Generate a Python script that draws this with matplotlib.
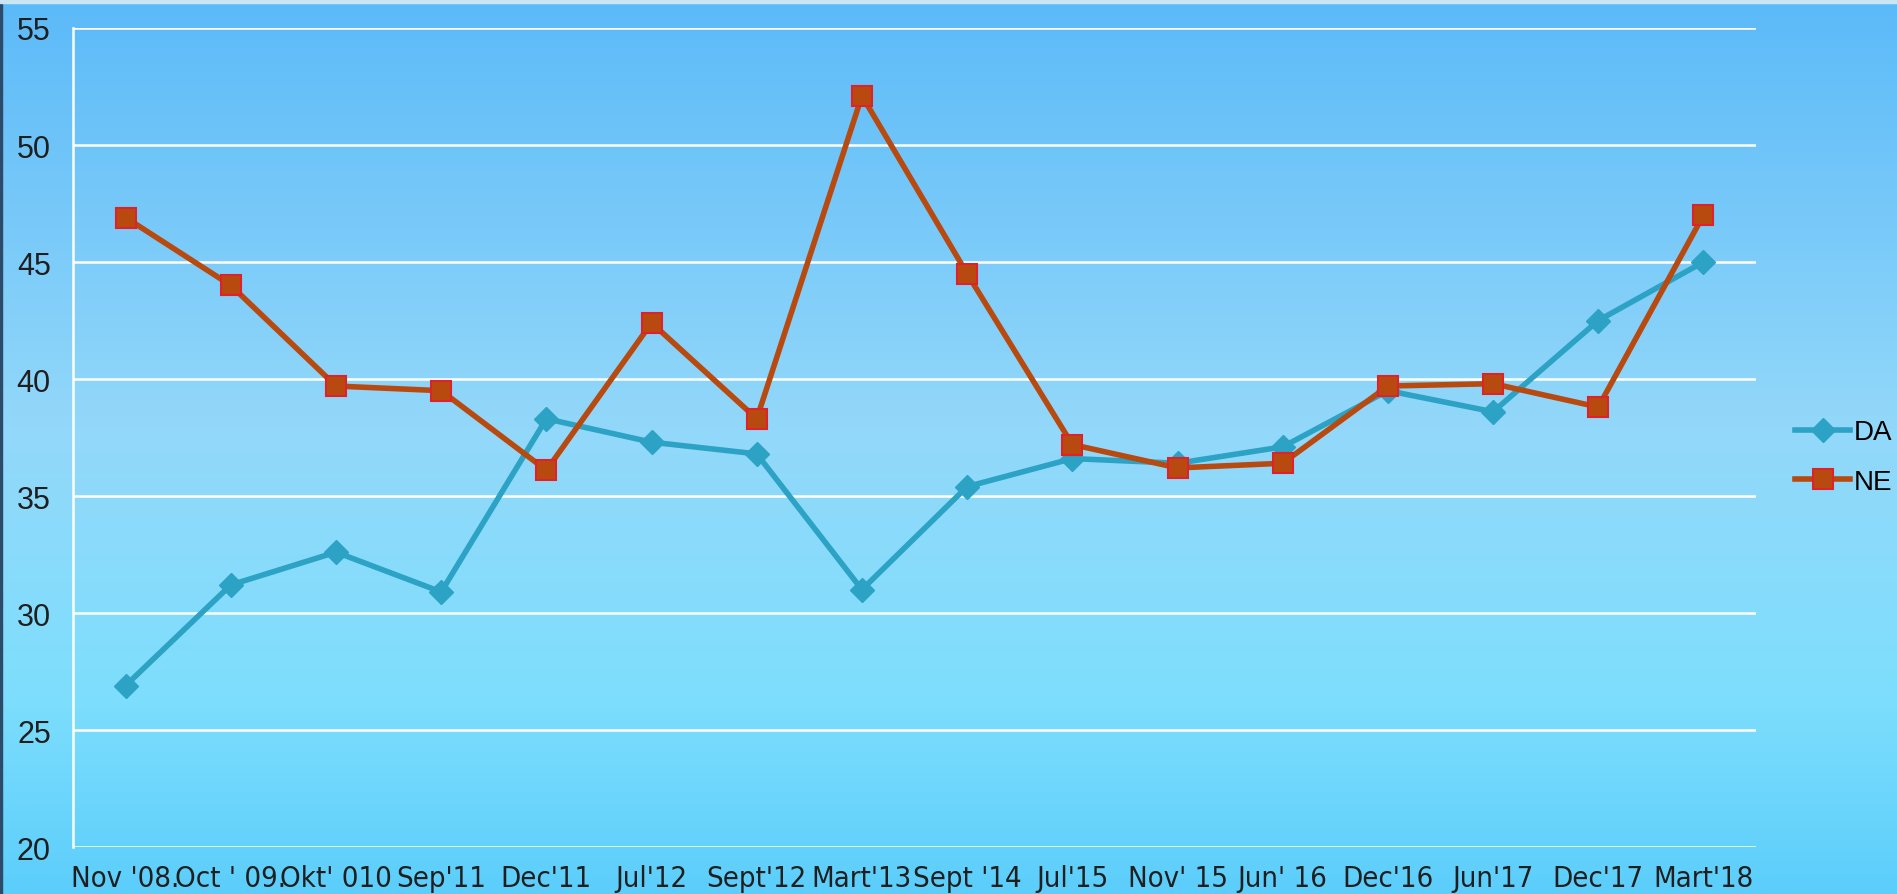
import matplotlib
matplotlib.use("Agg")
import matplotlib.pyplot as plt
import numpy as np
from matplotlib.colors import LinearSegmentedColormap
from matplotlib import font_manager

periodos = ["Nov '08.", "Oct ' 09.", "Okt' 010", "Sep'11", "Dec'11", "Jul'12",
            "Sept'12", "Mart'13", "Sept '14", "Jul'15", "Nov' 15", "Jun' 16",
            "Dec'16", "Jun'17", "Dec'17", "Mart'18"]
da = [26.9, 31.2, 32.6, 30.9, 38.3, 37.3, 36.8, 31.0, 35.4, 36.6, 36.4, 37.1,
      39.5, 38.6, 42.5, 45.0]
ne = [46.9, 44.0, 39.7, 39.5, 36.1, 42.4, 38.3, 52.1, 44.5, 37.2, 36.2, 36.4,
      39.7, 39.8, 38.8, 47.0]
y_ticks = [20, 25, 30, 35, 40, 45, 50, 55]

plt.rcParams["font.family"] = "Liberation Sans"

# fuente estrecha para el eje x si existe alguna
fp_x = font_manager.FontProperties(family="Liberation Sans", size=19)
for fam, st in [("Liberation Sans Narrow", "normal"), ("DejaVu Sans", "condensed")]:
    try:
        cand = font_manager.FontProperties(family=fam, stretch=st, size=21)
        ruta = font_manager.findfont(cand, fallback_to_default=False)
    except Exception:
        continue
    if "Narrow" in ruta or "Condensed" in ruta:
        fp_x = font_manager.FontProperties(fname=ruta, size=21)
        break

fig = plt.figure(figsize=(18.97, 8.95), dpi=100)

# fondo degradado
bg = fig.add_axes([0, 0, 1, 1], zorder=0)
cmap = LinearSegmentedColormap.from_list(
    "fondo", [(0, "#5CBAF8"), (0.48, "#93D8FA"), (0.78, "#7EDEFD"), (1, "#5CCEFB")])
grad = np.linspace(0, 1, 400).reshape(-1, 1)
bg.imshow(grad, aspect="auto", cmap=cmap, extent=[0, 1, 0, 1])
bg.axvspan(0, 0.0012, color="#2C4A6A")
bg.axhspan(0.996, 1, color="#C9E6F2")
bg.set_xlim(0, 1)
bg.set_ylim(0, 1)
bg.axis("off")

ax = fig.add_axes([0.0385, 0.0525, 0.8872, 0.9151], zorder=1)
ax.patch.set_alpha(0)
x = np.arange(len(periodos))

ax.plot(x, da, color="#2CA2C4", lw=4.0, marker="D", ms=12,
        mfc="#2CA2C4", mec="#2CA2C4", label="DA", zorder=3)
ax.plot(x, ne, color="#B84A10", lw=4.0, marker="s", ms=14,
        mfc="#B84A10", mec="#E0202A", mew=1.5, label="NE", zorder=4)

ax.set_xlim(-0.5, len(periodos) - 0.5)
ax.set_ylim(20, 55)
ax.set_yticks(y_ticks)
ax.set_xticks(x)
ax.set_xticklabels(periodos, fontproperties=fp_x, color="#1F1F1F")
ax.tick_params(axis="y", labelsize=22, labelcolor="#1F1F1F", length=0, pad=16)
ax.tick_params(axis="x", length=0, pad=12)
ax.grid(axis="y", color="white", lw=1.8)
ax.set_axisbelow(True)
for lado in ["top", "right", "bottom"]:
    ax.spines[lado].set_visible(False)
ax.spines["left"].set_color("white")
ax.spines["left"].set_linewidth(1.8)

fig.legend(loc="center left", bbox_to_anchor=(0.9462, 0.488), frameon=False,
           fontsize=20, handlelength=2.0, handletextpad=0.12,
           labelspacing=0.85, borderpad=0, borderaxespad=0)

fig.savefig("out.png", dpi=100)
